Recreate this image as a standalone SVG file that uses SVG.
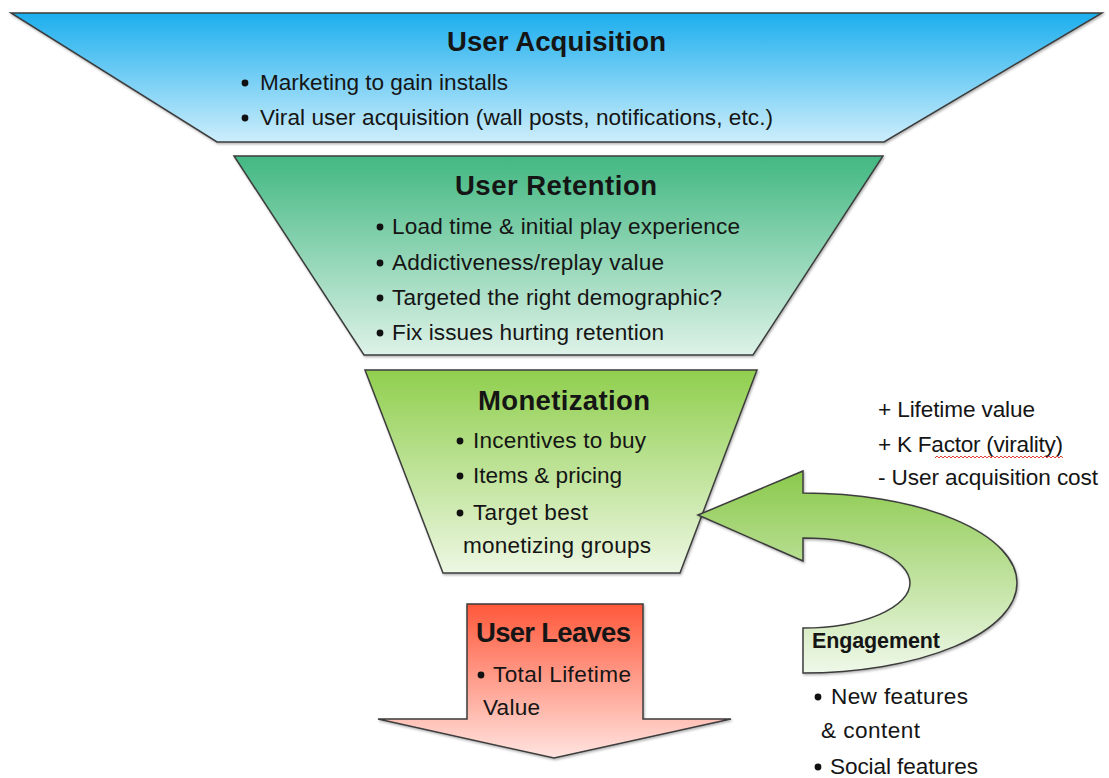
<svg xmlns="http://www.w3.org/2000/svg" width="1109" height="778" viewBox="0 0 1109 778">
  <defs>
    <linearGradient id="gBlue" x1="0" y1="0" x2="0" y2="1">
      <stop offset="0" stop-color="#1caeee"/>
      <stop offset="1" stop-color="#cdeefb"/>
    </linearGradient>
    <linearGradient id="gTeal" x1="0" y1="0" x2="0" y2="1">
      <stop offset="0" stop-color="#42b882"/>
      <stop offset="1" stop-color="#def2e8"/>
    </linearGradient>
    <linearGradient id="gLime" x1="0" y1="0" x2="0" y2="1">
      <stop offset="0" stop-color="#90cf4e"/>
      <stop offset="1" stop-color="#edf7e3"/>
    </linearGradient>
    <linearGradient id="gRed" x1="0" y1="0" x2="0" y2="1">
      <stop offset="0" stop-color="#ff583a"/>
      <stop offset="1" stop-color="#ffe4e0"/>
    </linearGradient>
    <linearGradient id="gLoop" x1="0" y1="0" x2="0" y2="1">
      <stop offset="0" stop-color="#8ac94b"/>
      <stop offset="1" stop-color="#eff8e9"/>
    </linearGradient>
    <filter id="shadow" x="-5%" y="-5%" width="110%" height="115%">
      <feDropShadow dx="1" dy="1.5" stdDeviation="1" flood-color="#000" flood-opacity="0.3"/>
    </filter>
  </defs>
  <style>
    .shape { stroke: #3c3c3c; stroke-width: 1.5; stroke-linejoin: miter; filter: url(#shadow); }
    text { font-family: "Liberation Sans", Arial, sans-serif; fill: #151515; }
    .title { font-size: 27.5px; font-weight: bold; }
    .body { font-size: 22.6px; }
    .eng { font-size: 21.5px; font-weight: bold; }
    .blt { fill: #111111; }
  </style>

  <rect width="1109" height="778" fill="#ffffff"/>

  <!-- Funnel stage 1 -->
  <g id="node-acquisition">
    <path class="shape" d="M11,13 L1102,13 L884,142 L217,142 Z" fill="url(#gBlue)"/>
    <text class="title" x="447" y="51" textLength="219">User Acquisition</text>
    <circle class="blt" cx="245" cy="83" r="3.4"/>
    <text class="body" x="260" y="90" textLength="248">Marketing to gain installs</text>
    <circle class="blt" cx="245" cy="118" r="3.4"/>
    <text class="body" x="260" y="125" textLength="513">Viral user acquisition (wall posts, notifications, etc.)</text>
  </g>

  <!-- Funnel stage 2 -->
  <g id="node-retention">
    <path class="shape" d="M234,156 L883,156 L753,355 L364,355 Z" fill="url(#gTeal)"/>
    <text class="title" x="455" y="195" textLength="202">User Retention</text>
    <circle class="blt" cx="380" cy="227" r="3.4"/>
    <text class="body" x="392" y="234" textLength="348">Load time &amp; initial play experience</text>
    <circle class="blt" cx="380" cy="263" r="3.4"/>
    <text class="body" x="392" y="270" textLength="272">Addictiveness/replay value</text>
    <circle class="blt" cx="380" cy="298" r="3.4"/>
    <text class="body" x="392" y="305" textLength="330">Targeted the right demographic?</text>
    <circle class="blt" cx="380" cy="333" r="3.4"/>
    <text class="body" x="392" y="340" textLength="272">Fix issues hurting retention</text>
  </g>

  <!-- Funnel stage 3 -->
  <g id="node-monetization">
    <path class="shape" d="M365,370 L757,370 L680,573 L443,573 Z" fill="url(#gLime)"/>
    <text class="title" x="478" y="410" textLength="172">Monetization</text>
    <circle class="blt" cx="460" cy="441" r="3.4"/>
    <text class="body" x="473" y="448" textLength="173">Incentives to buy</text>
    <circle class="blt" cx="460" cy="476" r="3.4"/>
    <text class="body" x="473" y="483" textLength="149">Items &amp; pricing</text>
    <circle class="blt" cx="460" cy="513" r="3.4"/>
    <text class="body" x="473" y="520" textLength="115">Target best</text>
    <text class="body" x="463" y="553" textLength="188">monetizing groups</text>
  </g>

  <!-- Exit arrow -->
  <g id="node-leaves">
    <path class="shape" d="M467,604 L643,604 L643,719 L731,719 L554,758 L378,719 L467,719 Z" fill="url(#gRed)"/>
    <text class="title" x="476" y="642" textLength="155">User Leaves</text>
    <circle class="blt" cx="481" cy="675" r="3.4"/>
    <text class="body" x="493" y="682" textLength="138">Total Lifetime</text>
    <text class="body" x="483" y="715" textLength="57">Value</text>
  </g>

  <!-- Engagement loop feeding back into monetization -->
  <g id="connectors">
    <path class="shape" d="M698,515 L803,471 L803,493 A214,90 0 0 1 803,673 L803,628 A107,45 0 0 0 803,538 L803,561 Z" fill="url(#gLoop)"/>
  </g>

  <g id="node-engagement">
    <text class="eng" x="812" y="648" textLength="128">Engagement</text>
    <circle class="blt" cx="818" cy="697" r="3.4"/>
    <text class="body" x="831" y="704" textLength="137">New features</text>
    <text class="body" x="821" y="738" textLength="99">&amp; content</text>
    <circle class="blt" cx="818" cy="767" r="3.4"/>
    <text class="body" x="830" y="774" textLength="148">Social features</text>
  </g>

  <!-- Value notes -->
  <g id="node-value">
    <text class="body" x="878" y="417" textLength="157">+ Lifetime value</text>
    <text class="body" x="878" y="452" textLength="185">+ K Factor (virality)</text>
    <path d="M935,458 l2,-2 l2,2 l2,-2 l2,2 l2,-2 l2,2 l2,-2 l2,2 l2,-2 l2,2 l2,-2 l2,2 l2,-2 l2,2 l2,-2 l2,2 l2,-2 l2,2 l2,-2 l2,2 l2,-2 l2,2 l2,-2 l2,2 l2,-2 l2,2 l2,-2 l2,2 l2,-2 l2,2 l2,-2 l2,2 l2,-2 l2,2 l2,-2 l2,2 l2,-2 l2,2 l2,-2 l2,2 l2,-2 l2,2 l2,-2 l2,2 l2,-2 l2,2 l2,-2 l2,2 l2,-2 l2,2 l2,-2 l2,2 l2,-2 l2,2 l2,-2 l2,2 l2,-2 l2,2 l2,-2 l2,2 l2,-2 l2,2 l2,-2 l2,2" fill="none" stroke="#e0403a" stroke-width="1"/>
    <text class="body" x="878" y="485" textLength="220">- User acquisition cost</text>
  </g>
</svg>
